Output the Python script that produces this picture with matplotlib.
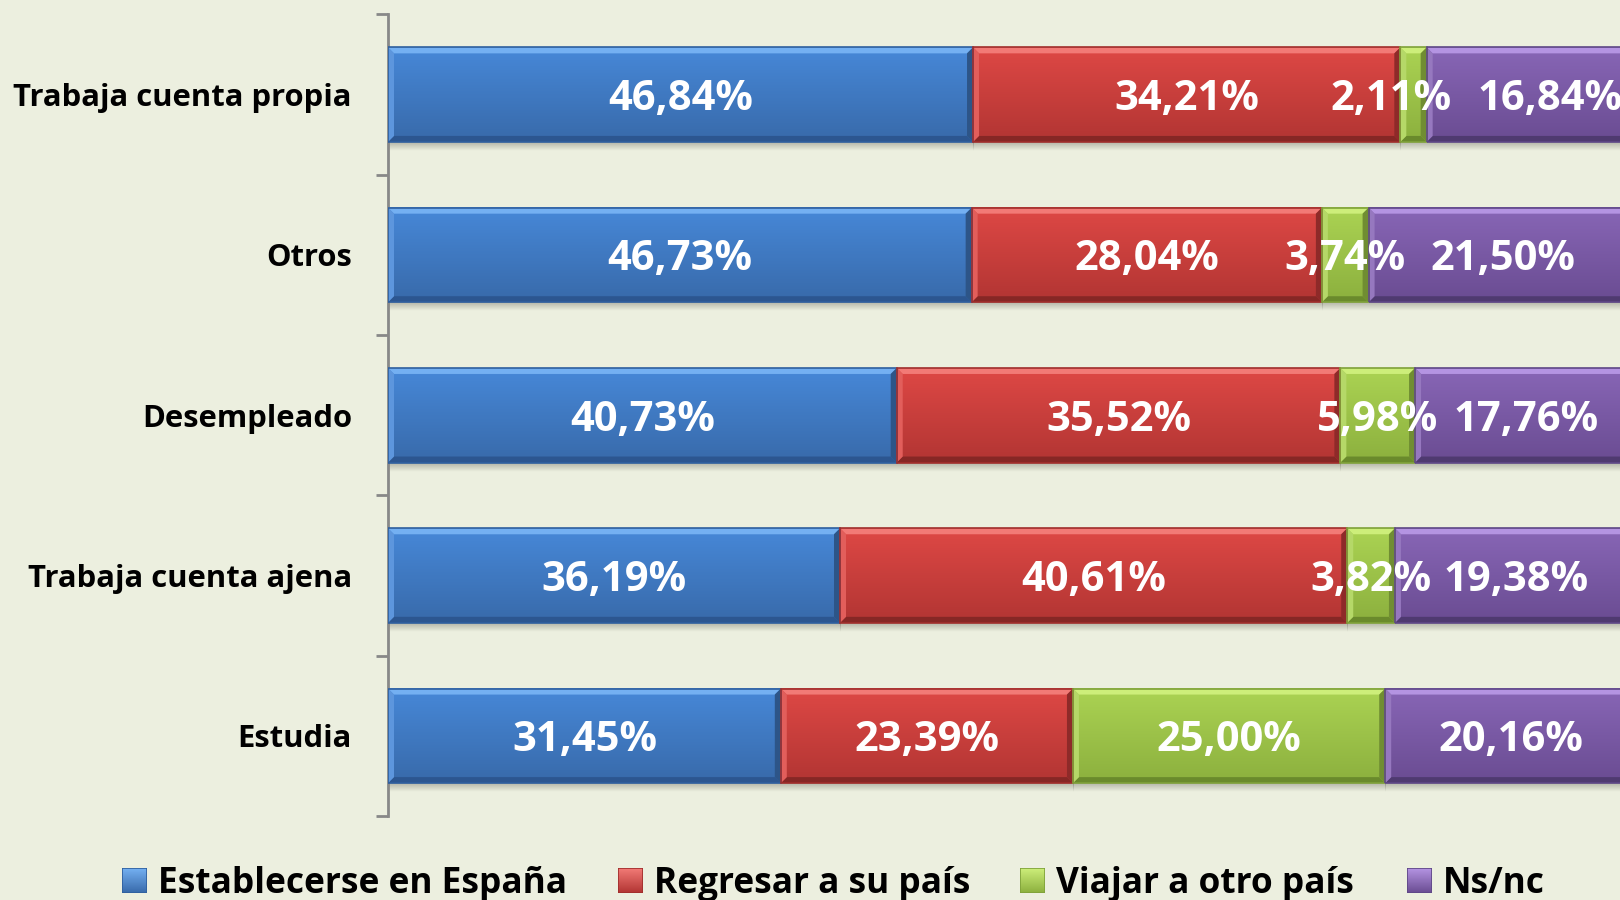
import numpy as np
import matplotlib.pyplot as plt
from matplotlib.patches import Polygon, Rectangle
from matplotlib.colors import to_rgb

plt.rcParams['font.family'] = ['Open Sans', 'DejaVu Sans']

categories = ["Estudia", "Trabaja cuenta ajena", "Desempleado", "Otros",
              "Trabaja cuenta propia"]
series_names = ["Establecerse en España", "Regresar a su país",
                "Viajar a otro país", "Ns/nc"]
establecerse = [31.45, 36.19, 40.73, 46.73, 46.84]
regresar = [23.39, 40.61, 35.52, 28.04, 34.21]
viajar = [25.00, 3.82, 5.98, 3.74, 2.11]
nsnc = [20.16, 19.38, 17.76, 21.50, 16.84]
series = [establecerse, regresar, viajar, nsnc]

# body top, body bottom, top bevel, bottom bevel, outline
palette = [
    ("#4788d8", "#386aaa", "#74b0f2", "#2c5690", "#2f5f9e"),
    ("#de4845", "#b23533", "#f27a76", "#862725", "#a02e2c"),
    ("#abd353", "#8cb03e", "#cdee7a", "#6a8a2c", "#7fa13a"),
    ("#8866b6", "#6a4c92", "#b494e2", "#4f3a70", "#5e4786"),
]

BG = "#ecefdf"
W, H = 1620, 900
fig = plt.figure(figsize=(W / 100, H / 100), dpi=100, facecolor=BG)

ax_left, ax_right = 388, 1637
ax_top, ax_bot = 14.5, 816
ax = fig.add_axes([ax_left / W, 1 - ax_bot / H,
                   (ax_right - ax_left) / W, (ax_bot - ax_top) / H])
ax.set_facecolor(BG)

bar_h = 0.59
px_x = (ax_right - ax_left) / 100.0
px_y = (ax_bot - ax_top) / 5.0
bx, by = 6 / px_x, 6 / px_y


def mix(c, other, t):
    c = np.array(to_rgb(c)); o = np.array(to_rgb(other))
    return tuple(c * (1 - t) + o * t)


def bevel_bar(x0, w, yc, colors):
    top_c, bot_c, hi_c, lo_c, edge_c = colors
    x1 = x0 + w
    yb, yt = yc - bar_h / 2, yc + bar_h / 2
    # drop shadow under the bar
    sh = np.zeros((20, 2, 4))
    sh[..., :3] = (0.45, 0.45, 0.40)
    sh[..., 3] = np.linspace(0.45, 0.0, 20)[:, None]
    ax.imshow(sh, extent=[x0, x1, yb - 9 / px_y, yb], aspect='auto',
              interpolation='bilinear', zorder=1)
    # body gradient
    t = np.linspace(0, 1, 64)[:, None]
    a = np.array(to_rgb(top_c)); b = np.array(to_rgb(bot_c))
    grad = (a * (1 - t) + b * t)[:, None, :].repeat(2, axis=1)
    ax.imshow(grad, extent=[x0, x1, yb, yt], aspect='auto',
              interpolation='bilinear', zorder=2)
    # bevel facets
    ax.add_patch(Polygon([(x0, yt), (x1, yt), (x1 - bx, yt - by), (x0 + bx, yt - by)],
                         closed=True, fc=hi_c, ec='none', zorder=3))
    ax.add_patch(Polygon([(x0, yb), (x1, yb), (x1 - bx, yb + by), (x0 + bx, yb + by)],
                         closed=True, fc=lo_c, ec='none', zorder=3))
    ax.add_patch(Polygon([(x0, yb), (x0, yt), (x0 + bx, yt - by), (x0 + bx, yb + by)],
                         closed=True, fc=mix(top_c, 'white', 0.12), ec='none', zorder=3))
    ax.add_patch(Polygon([(x1, yb), (x1, yt), (x1 - bx, yt - by), (x1 - bx, yb + by)],
                         closed=True, fc=mix(bot_c, 'black', 0.2), ec='none', zorder=3))
    ax.add_patch(Rectangle((x0, yb), w, bar_h, fc='none', ec=edge_c, lw=1.2, zorder=4))


# horizontal nudges (pixels) keeping crowded labels on the top row apart
nudge_px = {(4, 2): -22, (4, 3): 18}

ypos = np.arange(len(categories))
left = np.zeros(len(categories))
for k, (vals, cols) in enumerate(zip(series, palette)):
    for i, v in enumerate(vals):
        bevel_bar(left[i], v, ypos[i], cols)
        dx = nudge_px.get((i, k), 0) / px_x
        ax.text(left[i] + v / 2 + dx, ypos[i] - 0.03, f"{v:.2f}%".replace('.', ','),
                ha='center', va='center', color='white', fontsize=30,
                fontweight='bold', zorder=6)
    left += np.array(vals)

ax.set_xlim(0, 100)
ax.set_ylim(-0.5, len(categories) - 0.5)

for s in ('top', 'right', 'bottom'):
    ax.spines[s].set_visible(False)
ax.spines['left'].set_color('#888888')
ax.spines['left'].set_linewidth(2)
ax.xaxis.set_visible(False)
ax.set_yticks(ypos)
ax.set_yticklabels(categories, fontsize=22.3, fontweight='bold', color='black')
ax.tick_params(axis='y', which='major', length=0, pad=26)
ax.set_yticks(np.arange(-0.5, len(categories)), minor=True)
ax.tick_params(axis='y', which='minor', length=9, width=2, color='#888888')

# legend row
leg_marker_x = [122, 618, 1020, 1407]
leg_y_top, leg_size = 868, 25
for name, cols, mx in zip(series_names, palette, leg_marker_x):
    t = np.linspace(0, 1, 32)[:, None]
    a = np.array(to_rgb(cols[2])); b = np.array(to_rgb(cols[1]))
    g = (a * (1 - t) + b * t)[:, None, :].repeat(2, axis=1)
    lax = fig.add_axes([mx / W, 1 - (leg_y_top + leg_size) / H, leg_size / W, leg_size / H])
    lax.imshow(g, aspect='auto', extent=[0, 1, 0, 1], interpolation='bilinear')
    lax.add_patch(Rectangle((0, 0), 1, 1, fc='none', ec=cols[4], lw=1.2))
    lax.set_axis_off()
    fig.text((mx + 36) / W, 1 - (leg_y_top + leg_size) / H, name, ha='left',
             va='baseline', fontsize=25.4, fontweight='bold', color='black')

fig.savefig("out.png", dpi=100, facecolor=BG)
